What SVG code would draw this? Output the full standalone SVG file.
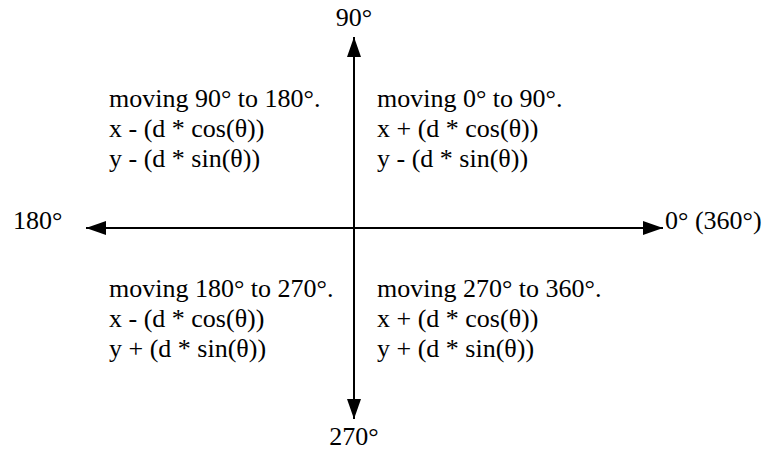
<svg xmlns="http://www.w3.org/2000/svg" width="766" height="452" viewBox="0 0 766 452">
<style>
text{font-family:"Liberation Serif","Times New Roman",serif;font-size:26px;fill:#000}
.ax{stroke:#000;stroke-width:2;fill:none}
</style>
<defs>
<marker id="ah" viewBox="0 0 20 14" refX="20" refY="7" markerWidth="20" markerHeight="14" markerUnits="userSpaceOnUse" orient="auto">
<path d="M0,0 L20,7 L0,14 Z" fill="#000"/>
</marker>
</defs>
<g id="connectors">
<line class="ax" x1="354" y1="228" x2="354" y2="37" marker-end="url(#ah)"/>
<line class="ax" x1="354" y1="228" x2="354" y2="419" marker-end="url(#ah)"/>
<line class="ax" x1="354" y1="228" x2="86" y2="228" marker-end="url(#ah)"/>
<line class="ax" x1="354" y1="228" x2="663" y2="228" marker-end="url(#ah)"/>
</g>
<g id="label90"><text x="354" y="26" text-anchor="middle">90°</text></g>
<g id="label270"><text x="354" y="445" text-anchor="middle">270°</text></g>
<g id="label180"><text x="13" y="229">180°</text></g>
<g id="label0"><text x="665" y="229">0° (360°)</text></g>
<g id="q2"><text x="109" y="107">moving 90° to 180°.</text><text x="109" y="137">x - (d * cos(θ))</text><text x="109" y="167">y - (d * sin(θ))</text></g>
<g id="q1"><text x="377" y="107">moving 0° to 90°.</text><text x="377" y="137">x + (d * cos(θ))</text><text x="377" y="167">y - (d * sin(θ))</text></g>
<g id="q3"><text x="109" y="297">moving 180° to 270°.</text><text x="109" y="327">x - (d * cos(θ))</text><text x="109" y="357">y + (d * sin(θ))</text></g>
<g id="q4"><text x="377" y="297">moving 270° to 360°.</text><text x="377" y="327">x + (d * cos(θ))</text><text x="377" y="357">y + (d * sin(θ))</text></g>
</svg>
